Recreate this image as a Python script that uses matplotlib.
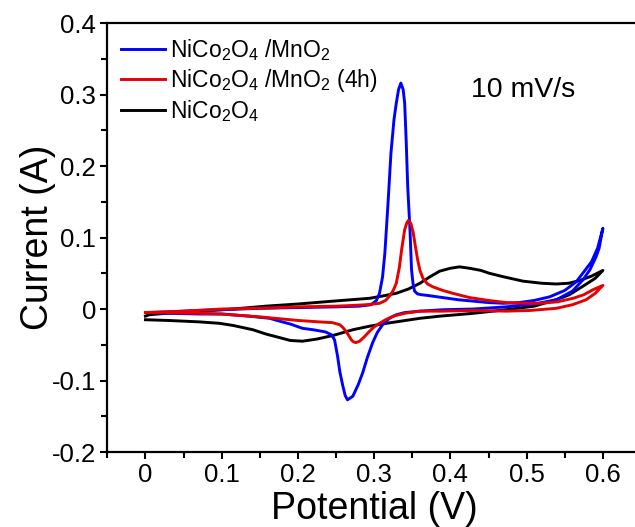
import matplotlib
matplotlib.use("Agg")
import matplotlib.pyplot as plt
from matplotlib.ticker import MultipleLocator

plt.rcParams['font.family'] = ['Liberation Sans', 'DejaVu Sans']
plt.rcParams['mathtext.fontset'] = 'custom'
plt.rcParams['mathtext.rm'] = 'Liberation Sans'
plt.rcParams['mathtext.default'] = 'regular'
plt.rcParams['axes.unicode_minus'] = False

# NiCo2O4/MnO2 (blue): forward (anodic) and reverse (cathodic) sweeps
blue_fwd_x = [0, 0.03, 0.07, 0.10, 0.15, 0.20, 0.25, 0.28, 0.296, 0.303, 0.307, 0.311, 0.314,
              0.318, 0.322, 0.326, 0.329, 0.332, 0.335, 0.338, 0.340, 0.342, 0.344, 0.347,
              0.349, 0.351, 0.353, 0.357, 0.362, 0.37, 0.39, 0.41, 0.43, 0.45, 0.47, 0.49,
              0.51, 0.53, 0.55, 0.565, 0.575, 0.585, 0.593, 0.6]
blue_fwd_y = [-0.005, -0.004, -0.002, -0.001, 0.001, 0.002, 0.003, 0.004, 0.006, 0.012, 0.022,
              0.045, 0.078, 0.145, 0.218, 0.265, 0.288, 0.307, 0.316, 0.307, 0.288, 0.235,
              0.171, 0.110, 0.055, 0.035, 0.025, 0.021, 0.020, 0.019, 0.016, 0.013, 0.011,
              0.009, 0.008, 0.009, 0.012, 0.017, 0.026, 0.038, 0.052, 0.066, 0.085, 0.113]
blue_rev_x = [0.6, 0.595, 0.591, 0.583, 0.574, 0.56, 0.539, 0.51, 0.473, 0.43, 0.39, 0.36, 0.34,
              0.329, 0.32, 0.311, 0.304, 0.298, 0.291, 0.285, 0.279, 0.272, 0.265, 0.262,
              0.259, 0.255, 0.252, 0.248, 0.244, 0.236, 0.22, 0.206, 0.19, 0.176, 0.163,
              0.136, 0.10, 0.071, 0.03, 0]
blue_rev_y = [0.113, 0.085, 0.073, 0.055, 0.041, 0.025, 0.013, 0.007, 0.003, 0.000, -0.001,
              -0.003, -0.005, -0.008, -0.013, -0.022, -0.033, -0.047, -0.068, -0.089, -0.106,
              -0.122, -0.127, -0.121, -0.108, -0.088, -0.066, -0.043, -0.036, -0.032, -0.029,
              -0.027, -0.021, -0.017, -0.013, -0.010, -0.007, -0.007, -0.006, -0.005]

# NiCo2O4/MnO2 (4h) (red)
red_fwd_x = [0, 0.05, 0.10, 0.15, 0.20, 0.25, 0.272, 0.29, 0.307, 0.315, 0.320, 0.325, 0.329,
             0.333, 0.336, 0.340, 0.343, 0.345, 0.348, 0.351, 0.354, 0.357, 0.360, 0.364,
             0.37, 0.377, 0.39, 0.403, 0.425, 0.45, 0.473, 0.50, 0.517, 0.54, 0.561, 0.575,
             0.587, 0.6]
red_fwd_y = [-0.005, -0.003, 0.000, 0.001, 0.003, 0.004, 0.005, 0.006, 0.008, 0.012, 0.018,
             0.026, 0.036, 0.058, 0.083, 0.111, 0.121, 0.124, 0.120, 0.108, 0.088, 0.069,
             0.054, 0.043, 0.035, 0.031, 0.026, 0.022, 0.016, 0.012, 0.009, 0.008, 0.008,
             0.010, 0.015, 0.020, 0.027, 0.033]
red_rev_x = [0.6, 0.59, 0.578, 0.56, 0.539, 0.505, 0.473, 0.43, 0.39, 0.36, 0.34, 0.325, 0.315,
             0.307, 0.300, 0.294, 0.287, 0.281, 0.276, 0.273, 0.270, 0.266, 0.263, 0.259,
             0.255, 0.245, 0.228, 0.20, 0.17, 0.15, 0.10, 0.071, 0.03, 0]
red_rev_y = [0.033, 0.022, 0.013, 0.006, 0.001, -0.002, -0.003, -0.002, -0.003, -0.003, -0.006,
             -0.010, -0.015, -0.020, -0.025, -0.031, -0.039, -0.045, -0.047, -0.046, -0.043,
             -0.036, -0.031, -0.026, -0.022, -0.019, -0.018, -0.016, -0.013, -0.011, -0.007,
             -0.006, -0.005, -0.005]

# NiCo2O4 (black)
black_fwd_x = [0, 0.005, 0.027, 0.071, 0.115, 0.158, 0.20, 0.246, 0.294, 0.31, 0.329, 0.345,
               0.360, 0.373, 0.386, 0.40, 0.412, 0.425, 0.44, 0.451, 0.47, 0.495, 0.52, 0.539,
               0.555, 0.570, 0.585, 0.6]
black_fwd_y = [-0.010, -0.008, -0.006, -0.003, 0.000, 0.004, 0.007, 0.011, 0.015, 0.018, 0.022,
               0.028, 0.036, 0.045, 0.053, 0.057, 0.059, 0.057, 0.054, 0.050, 0.045, 0.039,
               0.036, 0.035, 0.036, 0.040, 0.046, 0.054]
black_rev_x = [0.6, 0.59, 0.574, 0.556, 0.539, 0.51, 0.473, 0.43, 0.386, 0.36, 0.316, 0.294,
               0.272, 0.246, 0.225, 0.206, 0.19, 0.176, 0.158, 0.141, 0.115, 0.097, 0.071,
               0.03, 0]
black_rev_y = [0.054, 0.043, 0.032, 0.020, 0.013, 0.004, -0.001, -0.006, -0.010, -0.013, -0.020,
               -0.024, -0.029, -0.037, -0.042, -0.045, -0.044, -0.040, -0.035, -0.029, -0.023,
               -0.020, -0.018, -0.016, -0.015]

x_ticks = [0, 0.1, 0.2, 0.3, 0.4, 0.5, 0.6]
x_labels = ['0', '0.1', '0.2', '0.3', '0.4', '0.5', '0.6']
y_ticks = [-0.2, -0.1, 0, 0.1, 0.2, 0.3, 0.4]
y_labels = ['-0.2', '-0.1', '0', '0.1', '0.2', '0.3', '0.4']

fig = plt.figure(figsize=(6.35, 5.27), dpi=100)
ax = fig.add_axes([0.169, 0.1423, 0.8405, 0.814])

ax.plot(blue_fwd_x + blue_rev_x, blue_fwd_y + blue_rev_y, color='#0000ff', lw=2.1,
        label='NiCo$_2$O$_4$ /MnO$_2$', zorder=3)
ax.plot(red_fwd_x + red_rev_x, red_fwd_y + red_rev_y, color='#e60000', lw=2.1,
        label='NiCo$_2$O$_4$ /MnO$_2$ (4h)', zorder=4)
ax.plot(black_fwd_x + black_rev_x, black_fwd_y + black_rev_y, color='black', lw=2.1,
        label='NiCo$_2$O$_4$', zorder=2)

ax.set_xlim(-0.05, 0.65)
ax.set_ylim(-0.2, 0.4)
ax.set_xticks(x_ticks)
ax.set_xticklabels(x_labels)
ax.set_yticks(y_ticks)
ax.set_yticklabels(y_labels)
ax.xaxis.set_minor_locator(MultipleLocator(0.05))
ax.yaxis.set_minor_locator(MultipleLocator(0.05))
ax.tick_params(which='major', direction='out', length=5, width=1.5, labelsize=18.5, pad=3)
ax.tick_params(which='minor', direction='out', length=4, width=1.5)
ax.tick_params(top=False, right=False)
ax.spines['right'].set_visible(False)
for s in ['left', 'bottom', 'top']:
    ax.spines[s].set_linewidth(1.6)

ax.set_xlabel('Potential (V)', fontsize=27, labelpad=3)
ax.set_ylabel('Current (A)', fontsize=27, labelpad=-3)

ax.text(0.427, 0.297, '10 mV/s', fontsize=20.5, ha='left', va='baseline')

ax.legend(loc='upper left', bbox_to_anchor=(0.0, 1.0), frameon=False, fontsize=16.5,
          handlelength=1.9, handletextpad=0.25, labelspacing=0.18, borderpad=0.4,
          borderaxespad=0.2)

fig.savefig('out.png', dpi=100)
